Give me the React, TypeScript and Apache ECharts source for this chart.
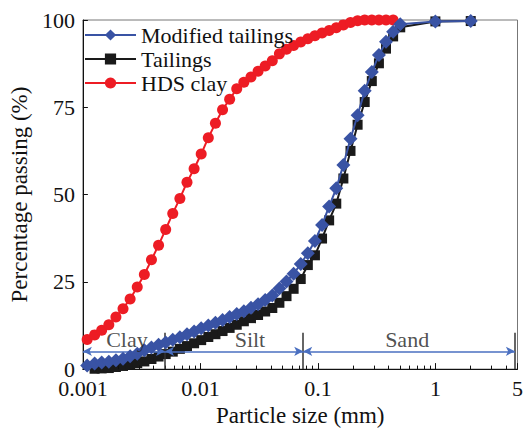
import React, { useEffect, useRef } from "react";
import * as echarts from "echarts";

// Laser-diffraction bin sizes (mm)
const sizesFine = [
  0.001087, 0.001258, 0.001445, 0.001662, 0.00191, 0.002195, 0.002523, 0.002901, 0.003334, 0.003833,
  0.004406, 0.005064, 0.005821, 0.006691, 0.007691, 0.008841, 0.01016, 0.01168, 0.01343, 0.01544,
  0.01774, 0.02039, 0.02344, 0.02695, 0.03097, 0.0356, 0.04093, 0.04704, 0.05408, 0.06216,
  0.07145, 0.08213, 0.09441, 0.1085, 0.1247, 0.1434, 0.1648, 0.1895, 0.2178, 0.2503,
  0.2877, 0.3308, 0.3802, 0.437, 0.5023,
];
// Sieve sizes (mm)
const sieveSizes = [1, 2];

// Modified tailings: sizesFine (all) + sieveSizes
const modifiedPassing = [
  1.0, 1.6, 1.9, 2.1, 2.5, 3.0, 3.7, 4.4, 5.4, 6.2,
  7.0, 7.6, 8.4, 9.1, 10.0, 10.8, 11.7, 12.5, 13.3, 14.1,
  14.9, 15.8, 16.6, 17.6, 18.6, 19.8, 21.1, 23.1, 25.1, 27.3,
  30.1, 33.2, 36.7, 41.3, 46.6, 51.8, 58.5, 66.0, 72.7, 79.7,
  85.1, 90.0, 93.8, 96.6, 98.8, 99.6, 99.7,
];
// Tailings: sizesFine from 2nd bin + sieveSizes
const tailingsPassing = [
  0.1, 0.2, 0.3, 0.6, 0.9, 1.3, 1.7, 2.2, 2.9, 3.6,
  4.3, 5.0, 5.8, 6.6, 7.4, 8.3, 9.2, 10.0, 10.9, 11.8,
  12.7, 13.7, 14.6, 15.5, 16.5, 17.5, 19.0, 20.9, 23.0, 25.8,
  29.8, 32.6, 37.4, 42.6, 47.4, 54.6, 62.5, 70.0, 76.5, 82.5,
  87.6, 91.8, 95.3, 97.9, 99.6, 99.7,
];
// HDS clay: first 44 bins of sizesFine
const hdsPassing = [
  8.5, 9.8, 11.1, 12.7, 14.9, 17.3, 20.1, 23.5, 27.1, 31.3,
  35.5, 40.0, 44.6, 48.9, 53.5, 57.4, 61.6, 66.3, 70.4, 74.3,
  77.3, 80.3, 82.2, 83.7, 85.3, 86.8, 88.3, 90.3, 91.6, 92.7,
  93.7, 94.6, 95.5, 96.3, 97.0, 97.8, 98.6, 99.3, 99.8, 100,
  100, 100, 100, 100,
];

const legendNames = ["Modified tailings", "Tailings", "HDS clay"];
const minorTickValues = [
  0.002, 0.003, 0.004, 0.005, 0.006, 0.007, 0.008, 0.009,
  0.02, 0.03, 0.04, 0.05, 0.06, 0.07, 0.08, 0.09,
  0.2, 0.3, 0.4, 0.5, 0.6, 0.7, 0.8, 0.9,
  2, 3, 4,
];
const boundarySizes = [0.005, 0.075, 4.75];
const zoneNames = ["Clay", "Silt", "Sand"];
const zoneStarts = [0.001, 0.005, 0.075];
const zoneEnds = [0.005, 0.075, 4.75];
const zoneLabelAt = [0.00237, 0.0264, 0.575];

const FONT = "Liberation Serif, Times New Roman, serif";

export default function App() {
  const ref = useRef<HTMLDivElement>(null);
  useEffect(() => {
    document.body.style.margin = "0";
    const chart = echarts.init(ref.current!, null, { renderer: "svg" });
    const zip = (xs: number[], ys: number[]) => ys.map((y, i) => [xs[i], y]);
    const modifiedX = sizesFine.concat(sieveSizes);
    const tailingsX = sizesFine.slice(1).concat(sieveSizes);
    const hdsX = sizesFine.slice(0, hdsPassing.length);

    const option: any = {
      animation: false,
      textStyle: { fontFamily: FONT },
      grid: { left: 78, right: 3, top: 20, bottom: 57, show: true, borderColor: "#777", borderWidth: 1 },
      legend: {
        data: legendNames,
        orient: "vertical",
        left: 84,
        top: 24,
        padding: 0,
        itemWidth: 51,
        itemHeight: 14,
        itemGap: 2,
        textStyle: { fontSize: 22, lineHeight: 19.5, fontFamily: FONT, color: "#111" },
      },
      xAxis: {
        type: "log",
        logBase: 10,
        min: 0.001,
        max: 5,
        name: "Particle size (mm)",
        nameLocation: "middle",
        nameGap: 34,
        nameTextStyle: { fontSize: 23, fontFamily: FONT, color: "#111" },
        axisLine: { lineStyle: { color: "#111", width: 1 } },
        axisTick: { inside: true, length: 6, lineStyle: { color: "#111" } },
        axisLabel: {
          fontSize: 22,
          lineHeight: 18,
          fontFamily: FONT,
          color: "#111",
          margin: 10,
          formatter: (v: number) => String(+Number(v).toPrecision(6)),
        },
        splitLine: { show: false },
      },
      yAxis: {
        type: "value",
        min: 0,
        max: 100,
        interval: 25,
        name: "Percentage passing (%)",
        nameLocation: "middle",
        nameGap: 45,
        nameTextStyle: { fontSize: 23, fontFamily: FONT, color: "#111" },
        axisLine: { show: true, lineStyle: { color: "#111", width: 1 } },
        axisTick: { inside: true, length: 5, lineStyle: { color: "#111" } },
        axisLabel: { fontSize: 22, lineHeight: 17, fontFamily: FONT, color: "#111", margin: 8 },
        splitLine: { show: false },
      },
      series: [
        {
          name: "HDS clay",
          type: "line",
          data: zip(hdsX, hdsPassing),
          symbol: "circle",
          symbolSize: 11,
          showAllSymbol: true,
          lineStyle: { color: "#ed1c24", width: 2 },
          itemStyle: { color: "#ed1c24" },
          z: 3,
        },
        {
          name: "Tailings",
          type: "line",
          data: zip(tailingsX, tailingsPassing),
          symbol: "rect",
          symbolSize: 10,
          showAllSymbol: true,
          lineStyle: { color: "#1a1a1a", width: 2 },
          itemStyle: { color: "#1a1a1a" },
          z: 4,
        },
        {
          name: "Modified tailings",
          type: "line",
          data: zip(modifiedX, modifiedPassing),
          symbol: "diamond",
          symbolSize: 14,
          showAllSymbol: true,
          lineStyle: { color: "#3953a4", width: 2 },
          itemStyle: { color: "#3953a4" },
          z: 5,
        },
        {
          name: "minorTicks",
          type: "line",
          data: [],
          silent: true,
          markLine: {
            silent: true,
            symbol: ["none", "none"],
            label: { show: false },
            lineStyle: { color: "#111", width: 1, type: "solid" },
            data: minorTickValues.map((v) => [{ coord: [v, 0] }, { coord: [v, 1] }]),
          },
        },
        {
          name: "boundaries",
          type: "line",
          data: [],
          silent: true,
          z: 6,
          markLine: {
            silent: true,
            symbol: ["none", "none"],
            label: { show: false },
            lineStyle: { color: "#333", width: 1.5, type: "solid" },
            data: boundarySizes.map((v) => [{ coord: [v, 0] }, { coord: [v, 10.4] }]),
          },
        },
        {
          name: "zoneArrows",
          type: "line",
          data: [],
          silent: true,
          z: 6,
          markLine: {
            silent: true,
            symbol: ["arrow", "arrow"],
            symbolSize: [7, 9],
            label: { show: false },
            lineStyle: { color: "#4a6fc0", width: 1.5, type: "solid" },
            data: zoneStarts.map((s, i) => [{ coord: [s, 5.1] }, { coord: [zoneEnds[i], 5.1] }]),
          },
        },
        {
          name: "zoneLabels",
          type: "scatter",
          silent: true,
          symbolSize: 0,
          z: 7,
          data: zoneNames.map((n, i) => [zoneLabelAt[i], 8.5, n]),
          label: {
            show: true,
            position: "inside",
            formatter: (p: any) => p.value[2],
            fontSize: 22,
            fontFamily: FONT,
            color: "#222",
          },
        },
      ],
    };
    chart.setOption(option);
    return () => chart.dispose();
  }, []);
  return <div ref={ref} style={{ width: 526, height: 432 }} />;
}
